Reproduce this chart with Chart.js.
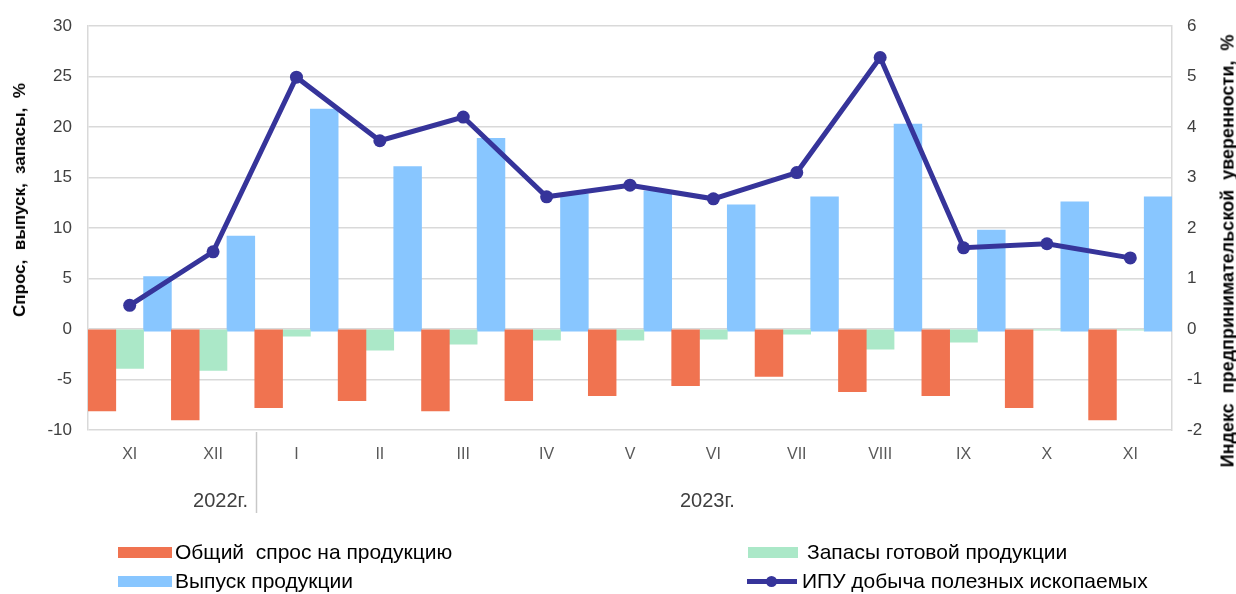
<!DOCTYPE html>
<html lang="ru">
<head>
<meta charset="utf-8">
<script src="https://cdn.jsdelivr.net/npm/chart.js@4.4.0/dist/chart.umd.min.js"></script>
<style>
  body { margin: 0; background: #fff; font-family: "Liberation Sans", Arial, sans-serif; }
  #wrap { position: relative; width: 1236px; height: 594px; overflow: hidden; }
  #chart { position: absolute; left: 0; top: 0; }
  .vtitle { position: absolute; transform: translate(-50%, -50%) rotate(-90deg); white-space: pre; font-weight: bold; color: #000; }
  .year { position: absolute; font-size: 20px; line-height: 24px; color: #404040; white-space: nowrap; }
  .leg { position: absolute; height: 26px; display: flex; align-items: center; font-size: 21px; color: #000; white-space: pre; }
  .sw { width: 54px; height: 11px; margin-right: 3px; }
  .swline { position: relative; width: 50px; height: 13px; margin-right: 5px; }
  .swline::before { content: ""; position: absolute; left: 0; right: 0; top: 4px; height: 5px; background: #36349A; }
  .swline::after { content: ""; position: absolute; left: 19px; top: 1px; width: 11px; height: 11px; border-radius: 50%; background: #36349A; }
</style>
</head>
<body>
<div id="wrap">
  <canvas id="chart" width="1236" height="594"></canvas>
  <div class="vtitle" style="left:20px; top:200px; font-size:17px;">Спрос,  выпуск,  запасы,  %</div>
  <div class="vtitle" style="left:1228px; top:251px; font-size:18px;">Индекс  предпринимательской  уверенности,  %</div>
  <div class="year" style="right:988px; top:488px;">2022г.</div>
  <div class="year" style="left:680px; top:488px;">2023г.</div>
  <div class="leg" style="left:118px; top:539px;"><div class="sw" style="background:#F07350"></div>Общий  спрос на продукцию</div>
  <div class="leg" style="left:118px; top:568px;"><div class="sw" style="background:#88C6FF"></div>Выпуск продукции</div>
  <div class="leg" style="left:748px; top:539px;"><div class="sw" style="background:#ABE8C8; width:50px; margin-right:9px"></div>Запасы готовой продукции</div>
  <div class="leg" style="left:747px; top:568px;"><div class="swline"></div>ИПУ добыча полезных ископаемых</div>
</div>
<script>
// ====== DATA ======
const months = ["XI", "XII", "I", "II", "III", "IV", "V", "VI", "VII", "VIII", "IX", "X", "XI"];
const demand = [-8.1, -9.0, -7.8, -7.1, -8.1, -7.1, -6.6, -5.6, -4.7, -6.2, -6.6, -7.8, -9.0];
const stocks = [-3.9, -4.1, -0.7, -2.1, -1.5, -1.1, -1.1, -1.0, -0.5, -2.0, -1.3, -0.1, -0.1];
const output = [5.2, 9.2, 21.8, 16.1, 18.9, 13.4, 13.7, 12.3, 13.1, 20.3, 9.8, 12.6, 13.1];
const ipu = [0.47, 1.53, 4.99, 3.73, 4.2, 2.62, 2.85, 2.58, 3.1, 5.38, 1.61, 1.69, 1.41];

const leftMin = -10, leftMax = 30, leftStep = 5;
const rightMin = -2, rightMax = 6, rightStep = 1;

const GRID = "#d9d9d9";

// ====== SEPARATOR BETWEEN YEARS ======
const yearSeparator = {
  id: "yearSeparator",
  afterDraw(chart) {
    const x = chart.scales.x;
    const px = Math.round((x.getPixelForValue(1) + x.getPixelForValue(2)) / 2) + 1.5;
    const ctx = chart.ctx;
    ctx.save();
    ctx.strokeStyle = "#c8c8c8";
    ctx.lineWidth = 1.5;
    ctx.beginPath();
    ctx.moveTo(px, chart.chartArea.bottom + 2);
    ctx.lineTo(px, 513);
    ctx.stroke();
    ctx.restore();
  },
};

new Chart(document.getElementById("chart"), {
  data: {
    labels: months,
    datasets: [
      {
        type: "line",
        label: "ИПУ добыча полезных ископаемых",
        data: ipu,
        yAxisID: "y1",
        borderColor: "#36349A",
        backgroundColor: "#36349A",
        borderWidth: 5,
        pointRadius: 6.5,
        pointBackgroundColor: "#36349A",
        pointBorderWidth: 0,
        tension: 0,
        order: 0,
      },
      {
        type: "bar",
        label: "Общий спрос на продукцию",
        data: demand,
        yAxisID: "y",
        backgroundColor: "#F07350",
        order: 1,
      },
      {
        type: "bar",
        label: "Запасы готовой продукции",
        data: stocks,
        yAxisID: "y",
        backgroundColor: "#ABE8C8",
        order: 1,
      },
      {
        type: "bar",
        label: "Выпуск продукции",
        data: output,
        yAxisID: "y",
        backgroundColor: "#88C6FF",
        base: -0.2,
        order: 1,
      },
    ],
  },
  options: {
    responsive: false,
    animation: false,
    devicePixelRatio: 1,
    layout: { padding: { top: 23, left: 0, right: 0, bottom: 0 } },
    datasets: { bar: { barPercentage: 1, categoryPercentage: 1 } },
    plugins: { legend: { display: false }, tooltip: { enabled: false } },
    scales: {
      x: {
        grid: { display: false },
        border: { display: false },
        ticks: { font: { family: "Liberation Sans", size: 16 }, color: "#595959", padding: 7, maxRotation: 0 },
        afterFit: (s) => { s.height = 164; },
      },
      y: {
        position: "left",
        min: leftMin,
        max: leftMax,
        ticks: { stepSize: leftStep, font: { family: "Liberation Sans", size: 17 }, color: "#404040", padding: 16 },
        grid: { color: GRID, lineWidth: 1.5, drawTicks: false },
        border: { display: true, color: GRID, width: 1.5 },
        afterFit: (s) => { s.width = 88; },
      },
      y1: {
        position: "right",
        min: rightMin,
        max: rightMax,
        ticks: { stepSize: rightStep, font: { family: "Liberation Sans", size: 17 }, color: "#404040", padding: 15 },
        grid: { display: false, drawTicks: false },
        border: { display: true, color: GRID, width: 1.5 },
        afterFit: (s) => { s.width = 64; },
      },
    },
  },
  plugins: [yearSeparator],
});
</script>
</body>
</html>
